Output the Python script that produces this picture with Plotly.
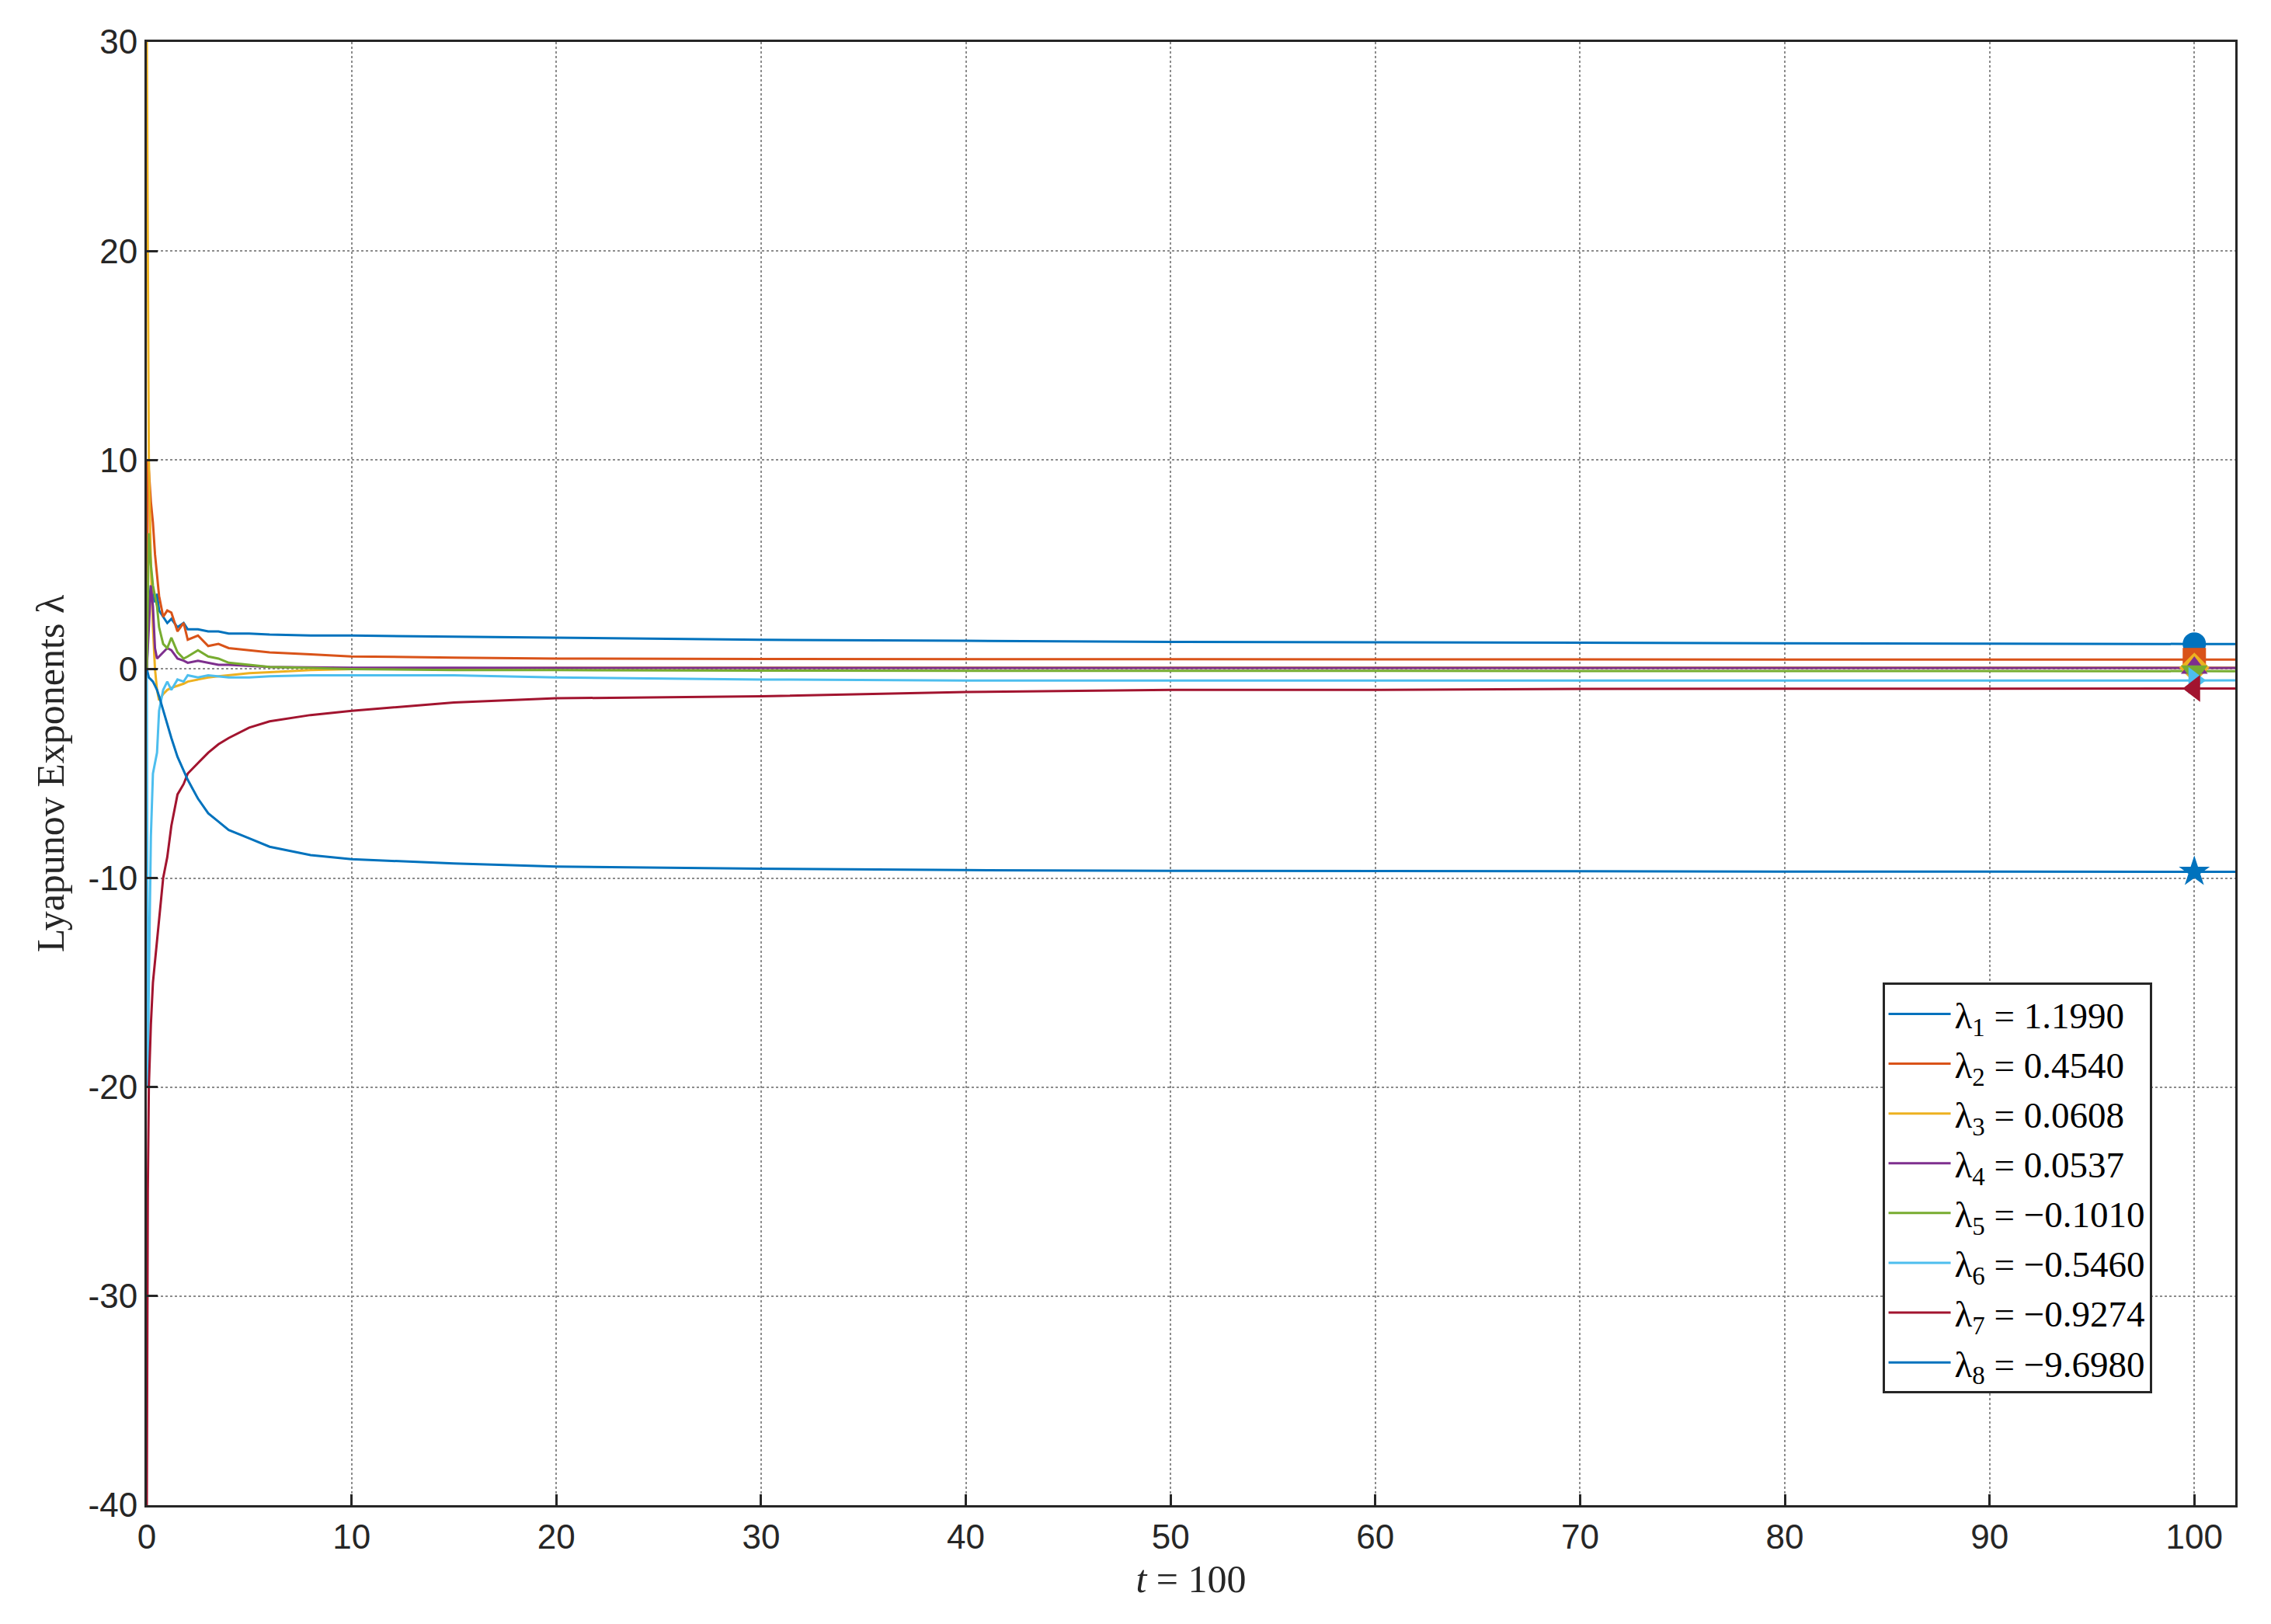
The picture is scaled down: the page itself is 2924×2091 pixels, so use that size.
import plotly.graph_objects as go

t = [0, 0.05, 0.1, 0.2, 0.3, 0.4, 0.5, 0.6, 0.8, 1.0, 1.2, 1.5, 1.8, 2.0, 2.5, 3.0, 3.5, 4.0, 5.0, 6.0, 8.0, 10, 15, 20, 30, 40, 50, 60, 70, 80, 90, 100, 102]
l1 = [0, 2, 3, 4, 3.5, 3.2, 3.6, 2.8, 2.5, 2.2, 2.4, 2.0, 2.2, 1.9, 1.9, 1.8, 1.8, 1.7, 1.7, 1.65, 1.6, 1.6, 1.55, 1.5, 1.4, 1.35, 1.3, 1.28, 1.25, 1.22, 1.21, 1.199, 1.199]
l2 = [0, 10, 9.5, 8, 7, 5.5, 4.5, 3.5, 2.5, 2.8, 2.7, 1.8, 2.2, 1.4, 1.6, 1.1, 1.2, 1.0, 0.9, 0.8, 0.7, 0.6, 0.55, 0.5, 0.48, 0.47, 0.46, 0.46, 0.455, 0.455, 0.454, 0.454, 0.454]
l3 = [30, 20, 10, 5, 2, 0, -1.0, -1.5, -1.2, -1.0, -0.9, -0.8, -0.7, -0.6, -0.5, -0.4, -0.35, -0.3, -0.2, -0.15, -0.05, 0, 0.03, 0.05, 0.06, 0.06, 0.06, 0.06, 0.06, 0.06, 0.06, 0.0608, 0.0608]
l4 = [0, 1, 2, 4, 3, 1, 0.5, 0.6, 0.8, 1.0, 0.9, 0.5, 0.4, 0.3, 0.4, 0.3, 0.2, 0.2, 0.15, 0.1, 0.08, 0.06, 0.06, 0.05, 0.05, 0.05, 0.05, 0.05, 0.05, 0.05, 0.05, 0.0537, 0.0537]
l5 = [0, 4, 6.5, 5, 4, 3.5, 3, 2, 1.2, 1.0, 1.5, 0.8, 0.5, 0.6, 0.9, 0.6, 0.5, 0.3, 0.2, 0.1, 0.05, 0.0, -0.05, -0.05, -0.08, -0.08, -0.09, -0.1, -0.1, -0.1, -0.1, -0.101, -0.101]
l6 = [0, -20, -15, -8, -5, -4.5, -4, -2, -1.0, -0.6, -1.0, -0.5, -0.6, -0.3, -0.4, -0.3, -0.35, -0.4, -0.4, -0.35, -0.3, -0.3, -0.3, -0.4, -0.5, -0.55, -0.55, -0.55, -0.55, -0.55, -0.55, -0.546, -0.546]
l7 = [-40, -25, -20, -17, -15, -14, -13, -12, -10, -9, -7.5, -6, -5.5, -5, -4.5, -4, -3.6, -3.3, -2.8, -2.5, -2.2, -2.0, -1.6, -1.4, -1.3, -1.1, -1.0, -1.0, -0.95, -0.95, -0.93, -0.9274, -0.9274]
l8 = [0, -0.2, -0.4, -0.5, -0.6, -0.8, -1.0, -1.3, -2.0, -2.7, -3.3, -4.2, -4.9, -5.3, -6.2, -6.9, -7.3, -7.7, -8.1, -8.5, -8.9, -9.1, -9.3, -9.45, -9.55, -9.62, -9.65, -9.67, -9.68, -9.69, -9.69, -9.698, -9.698]

names = ["λ<sub>1</sub> = 1.1990", "λ<sub>2</sub> = 0.4540", "λ<sub>3</sub> = 0.0608", "λ<sub>4</sub> = 0.0537",
         "λ<sub>5</sub> = −0.1010", "λ<sub>6</sub> = −0.5460", "λ<sub>7</sub> = −0.9274", "λ<sub>8</sub> = −9.6980"]
colors = ["#0072BD", "#D95319", "#EDB120", "#7E2F8E", "#77AC30", "#4DBEEE", "#A2142F", "#0072BD"]
symbols = ["circle", "square", "diamond", "triangle-up", "triangle-down", "triangle-right", "triangle-left", "star"]
series = [l1, l2, l3, l4, l5, l6, l7, l8]
t_end = 100
yticks = [-40, -30, -20, -10, 0, 10, 20, 30]
ylabels = ["-40", "-30", "-20", "-10", "0", "10", "20", "30"]

fig = go.Figure()
for s, n, c in zip(series, names, colors):
    fig.add_trace(go.Scatter(x=t, y=s, mode="lines", name=n, line=dict(color=c, width=3)))
for s, c, sym in zip(series, colors, symbols):
    fig.add_trace(go.Scatter(x=[t_end], y=[s[t.index(t_end)]], mode="markers", showlegend=False,
                             marker=dict(color=c, symbol=sym, size=30)))

axis = dict(showline=True, linecolor="#262626", linewidth=3, mirror=True, ticks="inside", ticklen=14,
            tickwidth=3, tickcolor="#262626", showgrid=True, gridcolor="#8c8c8c", griddash="dot", gridwidth=2,
            zeroline=False, tickfont=dict(family="Liberation Sans, Arial", size=44, color="#262626"))
fig.update_xaxes(axis, range=[0, 102], dtick=10,
                 title=dict(text="<i>t</i> = 100", font=dict(family="Liberation Serif", size=50, color="#262626"), standoff=14))
fig.update_yaxes(axis, range=[-40, 30], tickvals=yticks, ticktext=ylabels,
                 title=dict(text="Lyapunov Exponents λ", font=dict(family="Liberation Serif", size=50, color="#262626"), standoff=16))
fig.update_layout(width=2924, height=2091, margin=dict(l=181, r=54, t=46, b=161),
                  plot_bgcolor="white", paper_bgcolor="white",
                  legend=dict(x=0.831, y=0.357, xanchor="left", yanchor="top", bgcolor="white",
                              bordercolor="#262626", borderwidth=3, itemwidth=80,
                              font=dict(family="Liberation Serif", size=47, color="black"), tracegroupgap=0))
fig.write_html("out.html")
